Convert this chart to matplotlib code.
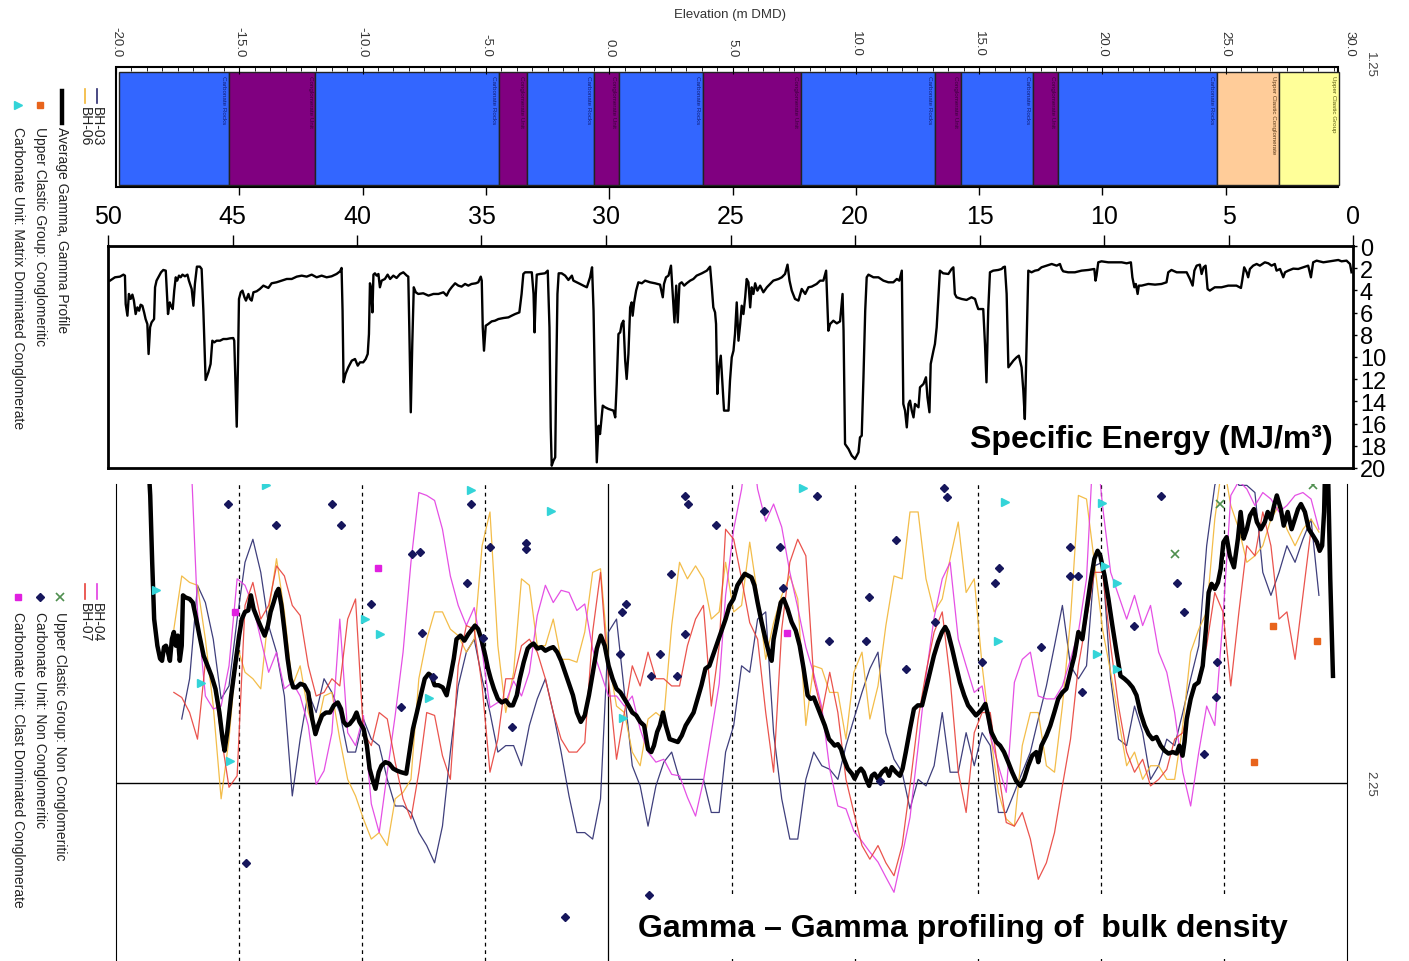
import numpy as np
import matplotlib.pyplot as plt
from matplotlib.lines import Line2D
from matplotlib.patches import Rectangle
from matplotlib.ticker import MultipleLocator

plt.rcParams['font.family'] = ['Liberation Sans', 'DejaVu Sans']

W, H = 1409, 962
nan = np.nan

# ---- formation band (elevation, m DMD) ----
form_top = [-19.88, -15.41, -11.91, -4.47, -3.33, -0.61, 0.41, 3.82, 7.76,
            13.21, 14.27, 17.20, 18.21, 24.63, 27.15]
form_base = [-15.41, -11.91, -4.47, -3.33, -0.61, 0.41, 3.82, 7.76, 13.21,
             14.27, 17.20, 18.21, 24.63, 27.15, 29.59]
form_unit = ['Carbonate Rocks', 'Conglomerate Unit', 'Carbonate Rocks', 'Conglomerate Unit',
             'Carbonate Rocks', 'Conglomerate Unit', 'Carbonate Rocks', 'Conglomerate Unit',
             'Carbonate Rocks', 'Conglomerate Unit', 'Carbonate Rocks', 'Conglomerate Unit',
             'Carbonate Rocks', 'Upper Clastic Conglomerate', 'Upper Clastic Group']
unit_colours = {'Carbonate Rocks': ('#3366ff', '#10207a'),
                'Conglomerate Unit': ('#800080', '#3c003c'),
                'Upper Clastic Conglomerate': ('#ffcc99', '#5a3a1a'),
                'Upper Clastic Group': ('#ffff99', '#5a5a10')}

# ---- specific energy vs depth (m) ----
se_depth = [49.92, 49.72, 49.52, 49.38, 49.32, 49.29, 49.22, 49.16, 49.09, 49.02,
            48.96, 48.89, 48.82, 48.75, 48.69, 48.62, 48.55, 48.49, 48.42, 48.37,
            48.31, 48.25, 48.15, 48.11, 48.05, 47.98, 47.87, 47.78, 47.68, 47.63,
            47.59, 47.52, 47.47, 47.40, 47.34, 47.28, 47.22, 47.15, 47.08, 47.01,
            46.91, 46.81, 46.75, 46.64, 46.57, 46.51, 46.43, 46.31, 46.24, 46.17,
            46.08, 45.97, 45.88, 45.81, 45.73, 45.64, 45.50, 45.37, 45.23, 45.10,
            44.97, 44.93, 44.87, 44.83, 44.78, 44.74, 44.67, 44.60, 44.52, 44.46,
            44.36, 44.30, 44.23, 44.16, 44.03, 43.90, 43.76, 43.56, 43.43, 43.23,
            43.03, 42.82, 42.62, 42.42, 42.22, 42.02, 41.82, 41.62, 41.42, 41.22,
            41.02, 40.82, 40.68, 40.62, 40.58, 40.54, 40.46, 40.35, 40.21, 40.08,
            39.97, 39.88, 39.75, 39.65, 39.57, 39.52, 39.48, 39.44, 39.38, 39.34,
            39.28, 39.21, 39.14, 39.08, 39.01, 38.88, 38.77, 38.67, 38.54, 38.41,
            38.27, 38.14, 38.00, 37.94, 37.90, 37.84, 37.78, 37.72, 37.64, 37.54,
            37.34, 37.13, 36.93, 36.73, 36.53, 36.40, 36.30, 36.20, 36.06, 35.93,
            35.80, 35.66, 35.53, 35.40, 35.23, 35.13, 35.03, 34.99, 34.95, 34.90,
            34.83, 34.73, 34.59, 34.46, 34.32, 34.12, 33.92, 33.79, 33.65, 33.48,
            33.39, 33.32, 33.25, 33.18, 32.98, 32.91, 32.87, 32.82, 32.78, 32.65,
            32.45, 32.34, 32.27, 32.22, 32.18, 32.11, 32.04, 32.00, 31.95, 31.90,
            31.78, 31.64, 31.51, 31.37, 31.31, 31.17, 31.04, 30.91, 30.77, 30.64,
            30.56, 30.50, 30.44, 30.37, 30.30, 30.24, 30.13, 30.04, 29.90, 29.70,
            29.63, 29.57, 29.50, 29.43, 29.37, 29.30, 29.23, 29.17, 29.10, 29.03,
            28.97, 28.93, 28.87, 28.79, 28.70, 28.56, 28.43, 28.23, 28.03, 27.83,
            27.72, 27.67, 27.59, 27.49, 27.39, 27.32, 27.25, 27.18, 27.12, 27.05,
            26.96, 26.86, 26.76, 26.62, 26.49, 26.36, 26.15, 25.95, 25.82, 25.75,
            25.69, 25.62, 25.58, 25.53, 25.46, 25.39, 25.34, 25.26, 25.08, 25.02,
            24.95, 24.88, 24.82, 24.75, 24.68, 24.61, 24.55, 24.48, 24.41, 24.35,
            24.28, 24.21, 24.15, 24.08, 24.01, 23.92, 23.81, 23.68, 23.54, 23.41,
            23.28, 23.07, 22.94, 22.81, 22.71, 22.63, 22.54, 22.41, 22.27, 22.14,
            22.00, 21.87, 21.74, 21.54, 21.40, 21.27, 21.16, 21.11, 21.07, 21.00,
            20.87, 20.73, 20.60, 20.50, 20.46, 20.40, 20.26, 20.13, 20.00, 19.86,
            19.80, 19.73, 19.66, 19.59, 19.53, 19.46, 19.26, 19.06, 18.86, 18.66,
            18.46, 18.32, 18.22, 18.12, 18.06, 17.99, 17.92, 17.85, 17.79, 17.72,
            17.65, 17.59, 17.45, 17.39, 17.25, 17.15, 17.09, 17.01, 16.96, 16.85,
            16.79, 16.72, 16.66, 16.59, 16.46, 16.25, 16.12, 16.05, 15.99, 15.92,
            15.72, 15.52, 15.32, 15.18, 15.12, 15.05, 14.85, 14.78, 14.72, 14.65,
            14.58, 14.45, 14.25, 14.11, 14.05, 13.98, 13.91, 13.84, 13.74, 13.64,
            13.51, 13.42, 13.31, 13.24, 13.18, 13.11, 13.04, 12.91, 12.77, 12.64,
            12.51, 12.31, 12.10, 11.90, 11.77, 11.70, 11.64, 11.44, 11.17, 10.90,
            10.63, 10.39, 10.34, 10.30, 10.23, 10.10, 9.83, 9.56, 9.29, 9.09,
            8.92, 8.86, 8.78, 8.72, 8.65, 8.60, 8.49, 8.22, 7.95, 7.69,
            7.49, 7.42, 7.29, 7.08, 6.88, 6.68, 6.55, 6.44, 6.37, 6.28,
            6.15, 6.08, 6.00, 5.92, 5.84, 5.75, 5.55, 5.28, 5.01, 4.68,
            4.50, 4.45, 4.37, 4.27, 4.21, 4.14, 4.01, 3.87, 3.74, 3.54,
            3.40, 3.27, 3.14, 3.07, 2.93, 2.80, 2.73, 2.60, 2.40, 2.20,
            2.00, 1.80, 1.69, 1.60, 1.46, 1.19, 0.93, 0.73, 0.59, 0.46,
            0.26, 0.12, 0.06]
se_energy = [3.12, 2.82, 2.76, 2.58, 2.67, 5.23, 6.28, 4.32, 4.77, 4.38,
             4.92, 6.13, 5.53, 5.83, 5.29, 5.38, 5.98, 6.58, 7.03, 9.73,
             7.33, 6.88, 6.58, 3.72, 3.12, 2.82, 2.37, 2.16, 2.22, 4.32,
             6.13, 5.08, 5.38, 5.68, 4.02, 2.82, 3.12, 2.67, 2.82, 2.58,
             2.73, 2.58, 3.12, 3.87, 5.38, 3.42, 1.86, 1.86, 2.07, 5.83,
             12.07, 11.38, 10.63, 8.53, 8.68, 8.53, 8.53, 8.38, 8.38, 8.32,
             8.29, 8.53, 13.33, 16.28, 10.63, 4.77, 4.17, 4.02, 4.62, 4.92,
             4.32, 4.77, 4.92, 4.17, 4.08, 3.87, 3.57, 3.78, 3.36, 3.27,
             3.12, 2.97, 2.97, 2.76, 2.67, 2.76, 2.58, 2.82, 2.67, 2.82,
             2.73, 2.52, 2.28, 1.98, 5.83, 12.28, 11.53, 10.93, 10.33, 10.18,
             10.78, 10.48, 10.48, 10.18, 9.73, 7.93, 3.36, 3.72, 5.98, 2.58,
             2.46, 2.67, 2.52, 3.72, 3.12, 2.97, 2.58, 2.97, 2.67, 2.88,
             2.52, 2.37, 2.67, 2.76, 7.33, 14.98, 8.83, 3.72, 4.17, 4.32,
             4.26, 4.47, 4.32, 4.32, 4.17, 4.47, 4.02, 3.72, 3.36, 3.57,
             3.66, 3.42, 3.57, 3.42, 3.36, 3.27, 2.76, 3.12, 7.33, 9.43,
             7.18, 7.03, 6.79, 6.73, 6.58, 6.49, 6.43, 6.28, 6.13, 5.98,
             4.32, 2.52, 2.37, 2.37, 2.37, 4.32, 7.78, 4.32, 2.58, 2.52,
             2.46, 2.22, 7.33, 16.34, 19.79, 19.34, 19.04, 11.83, 4.32, 2.46,
             2.46, 2.67, 3.06, 2.67, 3.12, 3.27, 3.42, 3.57, 3.72, 2.82,
             1.92, 5.83, 13.33, 19.49, 16.19, 16.94, 14.38, 14.53, 14.68, 14.83,
             15.44, 12.43, 7.93, 7.78, 7.03, 6.73, 10.33, 11.98, 9.73, 5.53,
             5.08, 6.28, 5.08, 4.02, 3.27, 3.36, 3.12, 3.27, 3.36, 3.48,
             4.62, 3.42, 2.82, 2.67, 1.77, 4.32, 6.88, 3.57, 6.88, 3.42,
             3.27, 3.57, 3.36, 3.12, 2.97, 2.67, 2.46, 2.22, 1.86, 3.72,
             5.53, 5.98, 7.03, 13.33, 10.93, 9.88, 11.83, 14.83, 14.83, 12.13,
             10.03, 9.43, 7.93, 5.08, 8.53, 7.03, 5.38, 6.13, 4.62, 2.97,
             3.27, 5.53, 3.72, 4.32, 3.36, 4.02, 3.57, 4.17, 3.72, 3.42,
             3.12, 2.97, 2.82, 2.52, 1.68, 3.12, 4.02, 4.77, 4.92, 3.87,
             4.32, 3.72, 3.66, 3.42, 3.12, 3.12, 2.22, 5.23, 7.63, 7.03,
             6.73, 6.97, 6.79, 4.32, 7.63, 17.84, 18.29, 18.89, 19.19, 18.59,
             17.24, 17.09, 11.83, 5.83, 2.82, 2.58, 2.82, 2.82, 3.12, 3.27,
             3.27, 2.97, 3.12, 2.22, 14.23, 14.83, 16.34, 14.23, 13.93, 14.83,
             15.44, 14.23, 14.53, 12.73, 12.43, 11.83, 13.63, 14.98, 10.63, 9.43,
             8.83, 7.33, 4.92, 2.22, 2.46, 2.52, 2.07, 1.92, 4.32, 4.62,
             4.77, 4.86, 4.62, 4.77, 5.23, 5.68, 5.68, 8.83, 12.28, 5.83,
             2.37, 2.22, 2.16, 2.07, 1.92, 1.86, 4.32, 10.93, 10.63, 10.33,
             10.03, 9.88, 10.93, 13.03, 15.59, 8.83, 2.22, 2.37, 2.22, 2.16,
             1.92, 1.77, 1.62, 1.77, 1.62, 2.07, 2.28, 2.37, 2.37, 2.22,
             2.16, 2.07, 3.12, 2.67, 1.47, 1.38, 1.47, 1.47, 1.47, 1.56,
             1.47, 2.82, 3.72, 3.42, 4.32, 3.57, 3.57, 3.42, 3.48, 3.42,
             3.27, 2.37, 2.16, 2.37, 2.37, 2.37, 2.97, 3.57, 2.22, 1.77,
             1.68, 2.52, 1.92, 1.77, 3.87, 4.02, 3.72, 3.72, 3.57, 3.57,
             3.78, 3.12, 1.92, 2.37, 2.82, 2.07, 1.77, 1.62, 1.77, 1.47,
             1.56, 1.77, 1.62, 2.22, 2.07, 2.82, 2.37, 2.22, 2.04, 2.07,
             1.92, 1.77, 2.82, 1.47, 1.32, 1.47, 1.38, 1.32, 1.26, 1.38,
             1.32, 1.62, 2.37]

# ---- gamma-gamma bulk density profiles vs elevation ----
gamma_elev = [-18.62, -18.29, -17.97, -17.65, -17.33, -17.01, -16.69, -16.37, -16.05, -15.73,
              -15.41, -15.08, -14.76, -14.44, -14.12, -13.80, -13.48, -13.16, -12.84, -12.52,
              -12.19, -11.87, -11.55, -11.23, -10.91, -10.59, -10.27, -9.95, -9.63, -9.31,
              -8.98, -8.66, -8.34, -8.02, -7.70, -7.38, -7.06, -6.74, -6.42, -6.10,
              -5.77, -5.45, -5.13, -4.81, -4.49, -4.17, -3.85, -3.53, -3.21, -2.89,
              -2.56, -2.24, -1.92, -1.60, -1.28, -0.96, -0.64, -0.32, 0.00, 0.33,
              0.65, 0.97, 1.29, 1.61, 1.93, 2.25, 2.57, 2.89, 3.21, 3.54,
              3.86, 4.18, 4.50,
              4.76, 5.09, 5.41, 5.74, 6.06, 6.39, 6.71, 7.04, 7.37, 7.69,
              8.02, 8.34, 8.67, 8.99, 9.32, 9.65, 9.97, 10.30, 10.62, 10.95,
              11.27, 11.60, 11.93, 12.25, 12.58, 12.90, 13.23, 13.56, 13.88, 14.21,
              14.53, 14.86, 15.18, 15.51, 15.84, 16.16, 16.49, 16.81, 17.14, 17.46,
              17.79, 18.12, 18.44, 18.77, 19.09, 19.42, 19.74, 20.07, 20.40, 20.72,
              21.05, 21.37, 21.70, 22.02, 22.35, 22.68, 23.00, 23.33, 23.65, 23.98,
              24.30, 24.63, 24.96, 25.28, 25.61, 25.93, 26.26, 26.58, 26.91, 27.24,
              27.56, 27.89, 28.21, 28.54, 28.86]

bh03 = [nan, nan, nan, nan, 2.161, 2.105, 1.975, 1.999, 2.050, 2.133,
        2.115, 2.022, 1.943, 1.911, 1.957, 2.031, 2.068, 2.129, 2.268, 2.189,
        2.124, 2.152, 2.105, 2.124, 2.152, 2.207, 2.207, 2.161, 2.189, 2.198,
        2.245, 2.282, 2.282, 2.291, 2.319, 2.337, 2.361, 2.310, 2.207, 2.115,
        2.068, 2.050, 2.105, 2.152, 2.207, 2.198, 2.198, 2.226, 2.170, 2.133,
        2.105, 2.152, 2.207, 2.268, 2.319, 2.319, 2.328, 2.272, 2.040, 2.022,
        2.124, 2.226, 2.254, 2.310, 2.254, 2.221, 2.207, 2.245, 2.245, 2.245,
        2.245, 2.291, 2.291,
        2.207, 2.170, 2.087, 2.096, 2.022, 2.012, 2.180, 2.272, 2.328, 2.328,
        2.245, 2.207, 2.226, 2.231, 2.245, 2.198, 2.161, 2.124, 2.091, 2.068,
        2.180, 2.217, 2.235, 2.286, 2.245, 2.254, 2.226, 2.152, 2.235, 2.235,
        2.180, 2.226, 2.180, 2.198, 2.291, 2.291, 2.263, 2.235, 2.207, 2.161,
        2.115, 2.059, 2.003, 2.087, 2.105, 2.087, 1.948, 1.943, 2.105, 2.189,
        2.198, 2.143, 2.180, 2.245, 2.226, 2.189, 2.198, 2.152, 2.105, 2.059,
        1.920, 1.836, 1.800, 1.800, 1.836, 1.836, 1.846, 1.957, 1.989, 1.957,
        1.920, 1.943, 1.911, 1.883, 1.989]

bh06 = [nan, nan, nan, 2.036, 1.962, 1.971, 1.975, 2.050, 2.143, 2.272,
        2.189, 2.059, 2.096, 2.105, 2.119, 2.012, 1.938, 2.012, 2.115, 2.087,
        2.152, 2.180, 2.129, 2.124, 2.189, 2.245, 2.268, 2.300, 2.328, 2.319,
        2.337, 2.272, 2.263, 2.245, 2.105, 2.050, 2.012, 2.012, 2.036, 2.045,
        2.068, 2.050, 1.920, 1.873, 2.059, 2.152, 2.096, 1.966, 1.975, 2.059,
        2.059, 2.022, 2.078, 2.078, 2.082, 2.040, 1.957, 1.952, 2.078, 2.143,
        2.152, 2.207, 2.226, 2.161, 2.152, 2.161, 2.031, 1.943, 1.966, 1.948,
        1.966, 2.022, 2.012,
        1.943, 2.012, 2.003, 1.915, 1.989, 2.078, 2.027, 1.989, 1.962, 1.994,
        2.170, 2.087, 2.091, 2.124, 2.124, 2.189, 2.096, 2.068, 2.161, 2.115,
        2.031, 1.962, 1.966, 1.873, 1.873, 1.966, 2.012, 1.994, 1.938, 1.887,
        1.985, 1.966, 2.087, 2.180, 2.263, 2.300, 2.310, 2.198, 2.152, 2.152,
        2.226, 2.235, 2.143, 2.022, 1.850, 1.855, 1.943, 2.036, 2.096, 2.161,
        2.226, 2.207, 2.245, 2.226, 2.226, 2.245, 2.245, 2.170, 2.068, 2.036,
        2.012, 1.883, 1.800, 1.864, 1.897, 1.943, 1.934, 1.920, 1.883, 1.864,
        1.897, 1.920, 1.897, 1.883, 1.901]

bh04 = [nan, nan, nan, nan, nan, 1.750, 2.012, 2.129, 2.147, 2.143,
        2.087, 1.966, 1.975, 2.003, 2.050, 2.096, 2.068, 2.119, 2.110, 2.129,
        2.170, 2.252, 2.233, 2.180, 2.022, 2.180, 2.198, 2.156, 2.279, 2.319,
        2.235, 2.156, 2.068, 1.943, 1.846, 1.850, 1.857, 1.897, 1.962, 2.003,
        2.031, 2.006, 2.066, 2.145, 2.138, 2.138, 2.108, 2.129, 2.096, 2.017,
        1.975, 1.999, 1.982, 1.985, 2.010, 2.001, 2.064, 2.096, 2.129, 2.129,
        2.143, 2.129, 2.175, 2.207, 2.221, 2.217, 2.238, 2.240, 2.270, 2.296,
        2.247, 2.180, 2.112,
        1.989, 1.897, 1.841, 1.750, 1.841, 1.886, 1.862, 1.894, 1.957, 2.006,
        2.061, 2.098, 2.145, 2.231, 2.282, 2.286, 2.317, 2.331, 2.346, 2.360,
        2.381, 2.402, 2.351, 2.298, 2.200, 2.101, 2.020, 1.966, 1.943, 2.050,
        2.087, 2.124, 2.115, 2.184, 2.226, 2.263, 2.110, 2.078, 2.068, 2.129,
        2.133, 2.133, 2.115, 2.078, 2.040, 1.966, 1.750, 1.864, 1.957, 1.989,
        2.022, 1.989, 2.031, 2.003, 2.068, 2.096, 2.152, 2.235, 2.282, 2.207,
        2.143, 2.170, 2.022, 1.850, 1.830, 1.841, 1.864, 1.846, 1.855, 1.873,
        1.864, 1.850, 1.846, 1.855, 1.897]

bh07 = [nan, nan, nan, 2.124, 2.131, 2.152, 2.189, 2.082, 2.105, 2.184,
        2.256, 2.240, 2.003, 1.971, 2.022, 2.003, 1.948, 1.962, 2.003, 2.017,
        2.087, 2.129, 2.124, 2.105, 2.115, 2.022, 1.994, 2.180, 2.198, 2.152,
        2.161, 2.221, 2.272, 2.300, 2.235, 2.152, 2.156, 2.212, 2.245, 2.087,
        2.031, 2.036, 2.115, 2.235, 2.189, 2.105, 2.105, 2.059, 2.050, 2.068,
        2.105, 2.152, 2.189, 2.207, 2.207, 2.194, 2.040, 1.957, 2.105, 2.217,
        2.152, 2.087, 2.115, 2.068, 2.105, 2.105, 2.115, 2.115, 2.059, 2.022,
        2.003, 2.143, 2.059,
        1.897, 1.911, 1.966, 2.027, 2.050, 2.152, 2.235, 2.036, 1.943, 1.911,
        1.934, 2.105, 2.152, 2.096, 2.152, 2.245, 2.291, 2.337, 2.356, 2.337,
        2.361, 2.379, 2.337, 2.254, 2.161, 2.096, 2.040, 2.012, 2.105, 2.235,
        2.291, 2.180, 2.152, 2.152, 2.235, 2.305, 2.310, 2.291, 2.328, 2.384,
        2.361, 2.319, 2.254, 2.189, 2.087, 2.022, 1.957, 1.957, 2.059, 2.143,
        2.207, 2.235, 2.217, 2.254, 2.245, 2.231, 2.189, 2.180, 2.133, 2.105,
        2.059, 1.985, 2.012, 2.115, 2.012, 1.920, 1.934, 1.873, 1.920, 2.022,
        2.012, 2.078, 1.989, 1.897, 1.929]

avg_elev = [-18.69, -18.61, -18.53, -18.45, -18.32, -18.21, -18.13, -18.05, -17.97, -17.89,
            -17.81, -17.73, -17.65, -17.57, -17.49, -17.41, -17.33, -17.28, -17.17, -17.01,
            -16.88, -16.77, -16.61, -16.44, -16.28, -16.12, -15.96, -15.80, -15.67, -15.59,
            -15.48, -15.32, -15.16, -15.00, -14.89, -14.76, -14.63, -14.52, -14.41, -14.25,
            -14.08, -13.96, -13.83, -13.72, -13.60, -13.48, -13.40, -13.28, -13.15, -13.03,
            -12.91, -12.80, -12.67, -12.51, -12.35, -12.19, -12.03, -11.90, -11.79, -11.63,
            -11.47, -11.31, -11.15, -10.99, -10.86, -10.75, -10.63, -10.51, -10.35, -10.23,
            -10.11, -9.94, -9.81, -9.70, -9.59, -9.46, -9.33, -9.22, -9.06, -8.90,
            -8.74, -8.58, -8.42, -8.21, -8.10, -7.94, -7.78, -7.62, -7.46, -7.30,
            -7.19, -7.06, -6.90, -6.73, -6.57, -6.41, -6.28, -6.17, -6.01, -5.85,
            -5.69, -5.53, -5.42, -5.29, -5.16, -5.00, -4.89, -4.78, -4.65, -4.49,
            -4.33, -4.17, -4.01, -3.88, -3.72, -3.60, -3.44, -3.28, -3.17, -3.04,
            -2.88, -2.72, -2.56, -2.40, -2.24, -2.08, -1.92, -1.76, -1.60, -1.44,
            -1.28, -1.12, -0.96, -0.79, -0.63, -0.47, -0.31, -0.15, 0.01, 0.17,
            0.33, 0.49, 0.65, 0.81, 0.97, 1.13, 1.29, 1.45, 1.61, 1.74,
            1.85, 1.98, 2.09, 2.22, 2.33, 2.49, 2.65, 2.82, 2.98, 3.14,
            3.30, 3.46, 3.62, 3.78, 3.94, 4.10, 4.76, 4.92, 5.08, 5.24,
            5.41, 5.54, 5.65, 5.81, 5.93, 6.06, 6.22, 6.38, 6.55, 6.63,
            6.71, 6.87, 7.00, 7.12, 7.28, 7.44, 7.61, 7.77, 7.93, 8.09,
            8.21, 8.34, 8.47, 8.63, 8.79, 8.96, 9.07, 9.19, 9.32, 9.45,
            9.56, 9.72, 9.89, 10.00, 10.13, 10.26, 10.37, 10.46, 10.59, 10.70,
            10.81, 10.94, 11.11, 11.27, 11.40, 11.51, 11.68, 11.84, 11.95, 12.08,
            12.25, 12.41, 12.57, 12.74, 12.90, 13.06, 13.22, 13.39, 13.55, 13.68,
            13.79, 13.96, 14.12, 14.28, 14.45, 14.61, 14.77, 14.93, 15.05, 15.18,
            15.31, 15.42, 15.55, 15.75, 15.91, 16.07, 16.24, 16.40, 16.56, 16.73,
            16.89, 17.05, 17.21, 17.38, 17.46, 17.59, 17.79, 17.95, 18.11, 18.27,
            18.44, 18.60, 18.76, 18.93, 19.09, 19.25, 19.41, 19.58, 19.74, 19.87,
            19.98, 20.15, 20.31, 20.47, 20.64, 20.80, 20.96, 21.12, 21.29, 21.45,
            21.61, 21.78, 21.94, 22.10, 22.26, 22.43, 22.59, 22.75, 22.92, 23.08,
            23.19, 23.32, 23.40, 23.49, 23.65, 23.81, 23.97, 24.14, 24.27, 24.38,
            24.50, 24.63, 24.76, 24.87, 24.98, 25.11, 25.24, 25.41, 25.57, 25.68,
            25.80, 25.93, 26.06, 26.22, 26.34, 26.50, 26.66, 26.78, 26.91, 27.04,
            27.15, 27.31, 27.43, 27.59, 27.75, 27.88, 28.01, 28.13, 28.29, 28.45,
            28.62, 28.78, 28.89, 28.99, 29.07, 29.12, 29.22, 29.32, 29.43]
avg_density = [1.800, 1.850, 1.943, 2.022, 2.059, 2.077, 2.080, 2.061, 2.059, 2.068,
               2.080, 2.050, 2.040, 2.059, 2.045, 2.080, 2.059, 1.989, 1.992, 1.994,
               1.999, 2.017, 2.045, 2.073, 2.087, 2.101, 2.119, 2.152, 2.189, 2.205,
               2.179, 2.128, 2.087, 2.045, 2.022, 2.012, 2.010, 1.989, 2.008, 2.022,
               2.036, 2.045, 2.031, 2.012, 1.999, 1.985, 1.980, 2.003, 2.040, 2.077,
               2.105, 2.117, 2.117, 2.112, 2.114, 2.124, 2.161, 2.182, 2.170, 2.156,
               2.152, 2.152, 2.142, 2.138, 2.147, 2.165, 2.170, 2.168, 2.161, 2.152,
               2.165, 2.175, 2.198, 2.230, 2.244, 2.258, 2.235, 2.226, 2.221, 2.223,
               2.230, 2.233, 2.235, 2.237, 2.212, 2.175, 2.152, 2.128, 2.105, 2.098,
               2.101, 2.114, 2.114, 2.117, 2.128, 2.101, 2.077, 2.050, 2.045, 2.052,
               2.043, 2.036, 2.031, 2.036, 2.050, 2.073, 2.091, 2.105, 2.119, 2.133,
               2.138, 2.135, 2.142, 2.142, 2.128, 2.105, 2.082, 2.063, 2.059, 2.056,
               2.063, 2.061, 2.066, 2.063, 2.061, 2.068, 2.080, 2.096, 2.112, 2.128,
               2.152, 2.165, 2.156, 2.128, 2.096, 2.063, 2.045, 2.059, 2.087, 2.105,
               2.119, 2.124, 2.133, 2.142, 2.152, 2.156, 2.165, 2.170, 2.203, 2.207,
               2.198, 2.179, 2.170, 2.152, 2.170, 2.189, 2.191, 2.193, 2.184, 2.170,
               2.161, 2.152, 2.133, 2.114, 2.091, 2.087, 2.022, 2.003, 1.994, 1.975,
               1.966, 1.959, 1.961, 1.964, 1.975, 1.999, 2.026, 2.050, 2.073, 2.080,
               2.050, 2.022, 1.999, 1.994, 2.008, 2.026, 2.038, 2.059, 2.091, 2.128,
               2.133, 2.131, 2.142, 2.156, 2.170, 2.189, 2.193, 2.198, 2.196, 2.203,
               2.216, 2.230, 2.237, 2.244, 2.235, 2.230, 2.235, 2.244, 2.254, 2.240,
               2.237, 2.244, 2.235, 2.230, 2.240, 2.228, 2.235, 2.240, 2.230, 2.207,
               2.175, 2.147, 2.142, 2.142, 2.119, 2.096, 2.073, 2.054, 2.040, 2.033,
               2.040, 2.063, 2.087, 2.110, 2.128, 2.142, 2.149, 2.156, 2.152, 2.147,
               2.140, 2.156, 2.179, 2.193, 2.198, 2.207, 2.221, 2.235, 2.247, 2.254,
               2.244, 2.226, 2.212, 2.207, 2.221, 2.198, 2.184, 2.170, 2.152, 2.133,
               2.124, 2.119, 2.096, 2.073, 2.040, 2.050, 2.012, 1.971, 1.938, 1.927,
               1.934, 1.961, 1.994, 2.031, 2.068, 2.101, 2.105, 2.110, 2.117, 2.128,
               2.152, 2.170, 2.182, 2.189, 2.186, 2.198, 2.205, 2.209, 2.207, 2.209,
               2.198, 2.212, 2.193, 2.161, 2.133, 2.114, 2.110, 2.087, 2.036, 1.985,
               1.973, 1.980, 1.971, 1.952, 1.915, 1.908, 1.934, 1.950, 1.910, 1.873,
               1.910, 1.897, 1.878, 1.869, 1.887, 1.897, 1.887, 1.873, 1.883, 1.864,
               1.850, 1.869, 1.892, 1.873, 1.897, 1.883, 1.869, 1.862, 1.873, 1.897,
               1.906, 1.915, 1.927, 1.920, 1.873, 1.800, 1.800, 1.966, 2.101]

# ---- core sample densities (elevation, density) ----
uc_cong_elev = [26.99, 28.78, 26.22]
uc_cong_dens = [2.032, 2.052, 2.221]
matrix_elev = [-18.37, -13.90, -16.54, -15.37, -5.57, -2.32, -9.88, -9.27, -7.28, 0.61,
               7.89, 16.10, 15.81, 20.04, 20.16, 20.65, 19.84, 20.65]
matrix_dens = [1.982, 1.836, 2.111, 2.219, 1.842, 1.872, 2.022, 2.043, 2.132, 2.160,
               1.840, 1.859, 2.052, 1.861, 1.948, 1.972, 2.071, 2.091]
uc_non_elev = [23.01, 24.84, 28.60]
uc_non_dens = [1.931, 1.862, 1.836]
carb_non_elev = [-15.45, -11.22, -13.50, -10.85, -7.97, -7.64, -5.57, -5.73, -4.80, -3.33,
                 -3.33, -9.63, -7.56, -7.11, -8.41, -5.08, -3.90, 3.13, 3.25, 4.39,
                 2.56, 0.57, 0.73, 3.13, 0.49, 2.11, 1.75, 2.80, -14.72, -1.75,
                 1.63, 8.46, 6.30, 6.99, 7.11, 8.94, 11.67, 10.57, 10.45, 12.07,
                 11.02, 13.62, 13.74, 13.25, 15.16, 15.85, 15.69, 18.74, 18.74, 19.07,
                 17.56, 19.23, 22.44, 23.09, 23.37, 21.34, 24.72, 24.67, 24.19]
carb_non_dens = [1.862, 1.862, 1.891, 1.891, 1.931, 1.929, 1.862, 1.972, 1.922, 1.916,
                 1.924, 2.001, 2.041, 2.103, 2.144, 2.048, 2.172, 1.851, 1.862, 1.891,
                 1.959, 2.012, 2.001, 2.043, 2.071, 2.071, 2.101, 2.101, 2.361, 2.436,
                 2.406, 1.851, 1.872, 1.922, 1.979, 2.052, 1.912, 1.991, 2.052, 2.091,
                 2.247, 1.840, 1.852, 2.026, 2.082, 1.951, 1.972, 1.922, 1.962, 1.962,
                 2.061, 2.123, 1.851, 1.972, 2.012, 2.032, 2.082, 2.130, 2.210]
clast_elev = [-9.35, -15.16, 7.24]
clast_dens = [1.951, 2.012, 2.041]

elev_ticks = [-20, -15, -10, -5, 0, 5, 10, 15, 20, 25, 30]
grid_elev = [-15, -10, -5, 0, 5, 10, 15, 20, 25]
depth_ticks = [0, 5, 10, 15, 20, 25, 30, 35, 40, 45, 50]
se_ticks = [0, 2, 4, 6, 8, 10, 12, 14, 16, 18, 20]


def frame(x0, y0, x1, y1):
    return [x0 / W, 1 - y1 / H, (x1 - x0) / W, (y1 - y0) / H]


fig = plt.figure(figsize=(W / 100, H / 100), dpi=100)

# gamma-gamma panel
axg = fig.add_axes(frame(116, 485, 1347, 962))
axg.set_xlim(-20, 30)
axg.set_ylim(2.4976, 1.8341)
for e in grid_elev:
    axg.axvline(e, color='black', lw=0.9, ls='-' if e == 0 else (0, (3, 3)), zorder=1)
axg.axhline(2.25, color='black', lw=1, zorder=1)
axg.plot(gamma_elev, bh03, color='#2a2a6e', lw=0.9, alpha=0.9, zorder=2)
axg.plot(gamma_elev, bh06, color='#f2b636', lw=0.9, alpha=0.9, zorder=2)
axg.plot(gamma_elev, bh04, color='#e23de2', lw=0.9, alpha=0.9, zorder=2)
axg.plot(gamma_elev, bh07, color='#e8413a', lw=0.9, alpha=0.9, zorder=2)
axg.plot(avg_elev, avg_density, color='black', lw=3.2, zorder=3)
axg.plot(carb_non_elev, carb_non_dens, 'D', color='#16165c', ms=4.5, zorder=7)
axg.plot(matrix_elev, matrix_dens, '>', color='#33d4d8', ms=5.5, zorder=7)
axg.plot(clast_elev, clast_dens, 's', color='#e020e0', ms=5, zorder=7)
axg.plot(uc_cong_elev, uc_cong_dens, 's', color='#e8641c', ms=4.5, zorder=7)
axg.plot(uc_non_elev, uc_non_dens, 'x', color='#4f8f4f', ms=6, mew=1.2, zorder=7)
axg.set_xticks([])
axg.set_yticks([])
axg.spines['top'].set_visible(False)
axg.spines['bottom'].set_visible(False)
ytr = axg.get_yaxis_transform()
axg.text(1.019, 2.25, '2.25', transform=ytr, rotation=-90, ha='center', va='center',
         fontsize=9.5, color='#444444', clip_on=False)
axg.text(1.019, 1.25, '1.25', transform=ytr, rotation=-90, ha='center', va='center',
         fontsize=9.5, color='#444444', clip_on=False)
axg.text(0.424, 0.07, 'Gamma \u2013 Gamma profiling of  bulk density', transform=axg.transAxes,
         ha='left', va='center', fontsize=23, fontweight='bold', zorder=6,
         bbox=dict(boxstyle='square,pad=0.5', fc='white', ec='none'))

# specific energy panel
axs = fig.add_axes(frame(108, 247, 1353, 469))
axs.plot(se_depth, se_energy, color='black', lw=1.7)
axs.set_xlim(50, 0)
axs.set_ylim(20, 0)
axs.xaxis.tick_top()
axs.set_xticks(depth_ticks)
axs.yaxis.tick_right()
axs.set_yticks(se_ticks)
axs.tick_params(axis='x', labelsize=18, length=8, width=1, pad=5)
axs.tick_params(axis='y', labelsize=17, length=3, width=1, pad=2)
for sp in axs.spines.values():
    sp.set_linewidth(2)
axs.text(0.984, 0.13, 'Specific Energy (MJ/m\u00b3)', transform=axs.transAxes,
         ha='right', va='center', fontsize=23, fontweight='bold')

# formation band
axb = fig.add_axes(frame(116, 68, 1349, 188))
axb.set_xlim(-20, 30)
axb.set_ylim(0, 1)
for sp in axb.spines.values():
    sp.set_visible(False)
axb.add_patch(Rectangle((-20, 0), 49.55, 1, fill=False, lw=1.5, ec='black', clip_on=False))
widths = [b - t for t, b in zip(form_top, form_base)]
axb.bar(form_top, 0.94, width=widths, bottom=0.017, align='edge',
        color=[unit_colours[u][0] for u in form_unit], edgecolor='#222222', lw=1)
for t, b, u in zip(form_top, form_base, form_unit):
    axb.text(b - 0.12, 0.93, u, rotation=-90, ha='right', va='top', fontsize=4.5,
             color=unit_colours[u][1])
axb.xaxis.tick_top()
axb.set_xticks(elev_ticks)
axb.set_xticklabels([f'{v:.1f}' for v in elev_ticks])
axb.xaxis.set_minor_locator(MultipleLocator(0.625))
axb.tick_params(axis='x', which='major', direction='in', length=5, pad=8,
                labelsize=9.5, labelrotation=-90, labelcolor='#333333')
axb.tick_params(axis='x', which='minor', direction='in', length=3)
axb.xaxis.get_major_ticks()[-1].tick2line.set_visible(False)
axb.set_yticks([])
axb.vlines(grid_elev, [-0.1 if e == 0 else -0.07 for e in grid_elev], 0,
           color='black', lw=1, clip_on=False)
fig.text(730 / W, 1 - 15 / H, 'Elevation (m DMD)', ha='center', va='center',
         fontsize=9.5, color='#333333')


# rotated legends on the left
def legend_line(x, y0, y1, label, colour, lw, ytext):
    fig.add_artist(Line2D([x / W, x / W], [1 - y0 / H, 1 - y1 / H], color=colour, lw=lw,
                          transform=fig.transFigure))
    fig.text(x / W, 1 - ytext / H, label, rotation=-90, ha='center', va='top',
             fontsize=10, color='#222222')


def legend_mark(x, y, label, ytext, **style):
    fig.add_artist(Line2D([x / W], [1 - y / H], ls='none', transform=fig.transFigure, **style))
    fig.text(x / W, 1 - ytext / H, label, rotation=-90, ha='center', va='top',
             fontsize=10, color='#222222')


legend_line(97, 90, 104, 'BH-03', '#2a2a6e', 1.2, 107)
legend_line(85, 90, 104, 'BH-06', '#f2b636', 1.2, 107)
legend_line(62, 92, 124, 'Average Gamma, Gamma Profile', 'black', 3.2, 127)
legend_mark(40, 106, 'Upper Clastic Group: Conglomeritic', 127,
            marker='s', color='#e8641c', ms=4.5)
legend_mark(18, 106, 'Carbonate Unit: Matrix Dominated Conglomerate', 127,
            marker='>', color='#33d4d8', ms=5.5)

legend_line(97, 585, 600, 'BH-04', '#e23de2', 1.2, 603)
legend_line(85, 585, 600, 'BH-07', '#e8413a', 1.2, 603)
legend_mark(60, 598, 'Upper Clastic Group: Non Conglomeritic', 612,
            marker='x', color='#4f8f4f', ms=6, mew=1.2)
legend_mark(40, 598, 'Carbonate Unit: Non Conglomeritic', 612,
            marker='D', color='#16165c', ms=4.5)
legend_mark(18, 598, 'Carbonate Unit: Clast Dominated Conglomerate', 612,
            marker='s', color='#e020e0', ms=5)

fig.savefig('out.png', dpi=100)
